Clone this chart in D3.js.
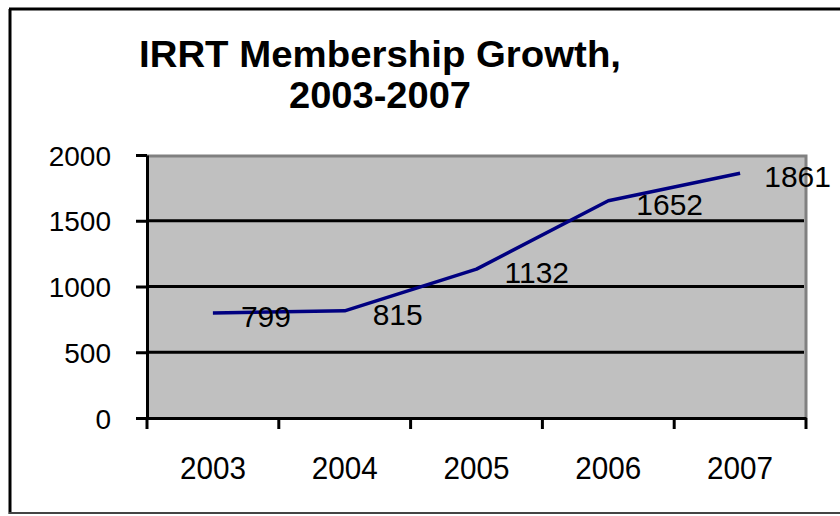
<!DOCTYPE html>
<html>
<head>
<meta charset="utf-8">
<script src="https://cdn.jsdelivr.net/npm/d3@7"></script>
<style>
  html, body { margin: 0; padding: 0; background: #fff; }
  svg { display: block; }
  text { font-family: "Liberation Sans", Arial, sans-serif; fill: #000; }
</style>
</head>
<body>
<svg id="chart" width="840" height="516"></svg>
<script>
const titleLines = ["IRRT Membership Growth,", "2003-2007"];
const years = ["2003", "2004", "2005", "2006", "2007"];
const members = [799, 815, 1132, 1652, 1861];
const yTicks = [0, 500, 1000, 1500, 2000];

const svg = d3.select("#chart");
const plot = { left: 147, right: 806, top: 155, bottom: 418 };

// outer chart border
svg.append("line").attr("x1", 10).attr("y1", 9).attr("x2", 10).attr("y2", 514)
  .attr("stroke", "#000").attr("stroke-width", 3);
svg.append("line").attr("x1", 9).attr("y1", 9).attr("x2", 845).attr("y2", 9)
  .attr("stroke", "#000").attr("stroke-width", 3);
svg.append("line").attr("x1", 9).attr("y1", 513).attr("x2", 845).attr("y2", 513)
  .attr("stroke", "#444").attr("stroke-width", 2);

// title
svg.append("text")
  .attr("text-anchor", "middle")
  .style("font-weight", "bold").style("font-size", "37px")
  .selectAll("tspan").data(titleLines).join("tspan")
  .attr("x", 380).attr("y", (d, i) => i === 0 ? 67 : 108)
  .attr("textLength", (d, i) => i === 0 ? 482 : 182)
  .attr("lengthAdjust", "spacingAndGlyphs")
  .text(d => d);

const x = d3.scaleBand().domain(years).range([plot.left, plot.right]).padding(0);
const y = d3.scaleLinear().domain([0, 2000]).range([plot.bottom, plot.top]);

// plot background
svg.append("rect")
  .attr("x", plot.left).attr("y", plot.top)
  .attr("width", plot.right - plot.left).attr("height", plot.bottom - plot.top)
  .attr("fill", "#c0c0c0");
// gray border top / right
svg.append("path")
  .attr("d", `M${plot.left},${plot.top + 1}H${plot.right}V${plot.bottom}`)
  .attr("fill", "none").attr("stroke", "#808080").attr("stroke-width", 3);

// gridlines
svg.append("g").selectAll("line").data(yTicks.filter(v => v > 0 && v < 2000)).join("line")
  .attr("x1", plot.left).attr("x2", plot.right - 2)
  .attr("y1", d => y(d)).attr("y2", d => y(d))
  .attr("stroke", "#000").attr("stroke-width", 3);

// y axis
const yAxis = svg.append("g").attr("transform", `translate(${plot.left},0)`)
  .call(d3.axisLeft(y).tickValues(yTicks).tickFormat(d3.format("d"))
    .tickSize(11).tickPadding(25).tickSizeOuter(0));
yAxis.select(".domain").attr("stroke", "#000").attr("stroke-width", 3);
yAxis.selectAll(".tick line").attr("stroke", "#000").attr("stroke-width", 3);
yAxis.selectAll(".tick text")
  .style("font-size", "28px").attr("fill", "#000")
  .attr("font-family", null).attr("dy", "0.36em").attr("x", -36);

// x axis
const xAxis = svg.append("g").attr("transform", `translate(0,${plot.bottom})`)
  .call(d3.axisBottom(x).tickSize(0).tickSizeOuter(0).tickPadding(0));
xAxis.select(".domain").attr("stroke", "#000").attr("stroke-width", 3);
xAxis.selectAll(".tick text")
  .style("font-size", "32px").attr("fill", "#000").attr("font-family", null)
  .attr("dy", null).attr("y", 61)
  .attr("textLength", 66).attr("lengthAdjust", "spacingAndGlyphs");
// boundary ticks between categories
svg.append("g").selectAll("line")
  .data(years.map(d => x(d)).concat([x(years[years.length - 1]) + x.bandwidth()]))
  .join("line")
  .attr("x1", d => d).attr("x2", d => d)
  .attr("y1", plot.bottom).attr("y2", plot.bottom + 11)
  .attr("stroke", "#000").attr("stroke-width", 3);

// series line
const pts = years.map((yr, i) => [x(yr) + x.bandwidth() / 2, y(members[i])]);
svg.append("path")
  .attr("d", d3.line()(pts))
  .attr("fill", "none").attr("stroke", "#000080").attr("stroke-width", 3.5)
  .attr("stroke-linejoin", "round");

// data labels (right of point, kept inside chart)
const labels = svg.append("g").selectAll("text").data(members).join("text")
  .style("font-size", "30px")
  .attr("y", (d, i) => pts[i][1] + 14)
  .text(d => d);
labels.each(function (d, i) {
  const w = this.getComputedTextLength();
  const lx = Math.min(pts[i][0] + 28, 831 - w);
  d3.select(this).attr("x", lx);
});
</script>
</body>
</html>
